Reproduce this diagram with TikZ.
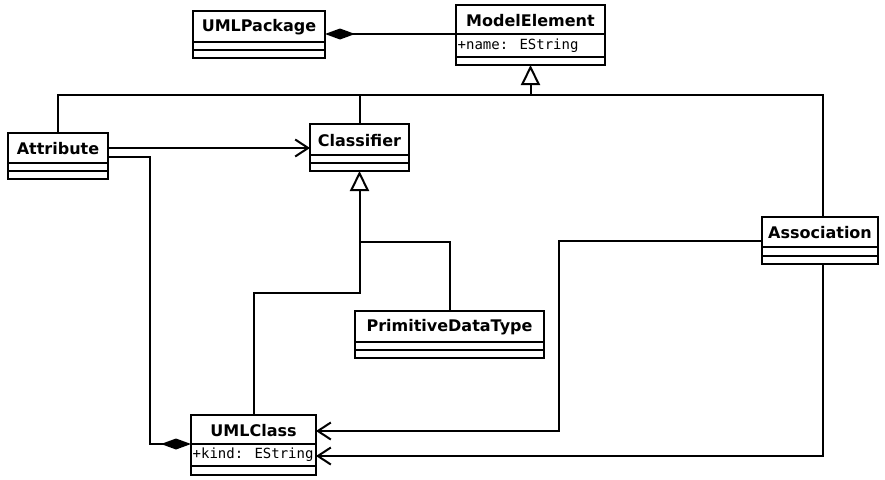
\documentclass[tikz,border=0pt]{standalone}
\usepackage{fontspec}
\setmainfont{DejaVu Sans}
\newfontfamily\monof{DejaVu Sans Mono}
\usetikzlibrary{arrows.meta}
\tikzset{
  line/.style={line width=2pt, line join=miter},
  box/.style={line, draw, fill=white, inner sep=0pt, outer sep=0pt, anchor=north west},
  ttl/.style={font=\fontsize{16}{19}\selectfont\bfseries, inner sep=0pt},
  att/.style={font=\monof\fontsize{14}{16}\selectfont, inner sep=0pt, anchor=west},
  gen/.style={line, -{Triangle[open, length=20pt, width=19pt, line width=2pt]}},
  nav/.style={line, -{Straight Barb[length=13pt, width=17pt, line width=2pt]}},
  compS/.style={line, {Diamond[length=30pt, width=11pt]}-},
  compE/.style={line, -{Diamond[length=30pt, width=11pt]}},
}
% \umlcls{name}{x1}{y1}{x2}{y2}{d1}{d2}{title}{attr}
\newcommand{\umlcls}[9]{%
  \node[box, minimum width={#4-#2}, minimum height={#5-#3}] (#1) at (#2,#3) {};
  \draw[line] (#2,#6) -- (#4,#6);
  \draw[line] (#2,#7) -- (#4,#7);
  \node[ttl] (#1-t) at ({(#2+#4)/2},{(#3+#6)/2+1}) {#8};
  \node[att] (#1-a) at ({#2+1.5},{(#6+#7)/2}) {#9};
}
\begin{document}
\begin{tikzpicture}[x=1pt,y=-1pt]
\useasboundingbox[fill=white] (0,0) rectangle (885,479);
\umlcls{pkg}{193}{11}{325}{58}{42}{50}{UMLPackage}{}
\umlcls{me}{456}{5}{605}{65}{34}{57}{ModelElement}{+name: EString}
\umlcls{attr}{8}{133}{108}{179}{163}{171}{Attribute}{}
\umlcls{cls}{310}{124}{409}{171}{155}{163}{Classifier}{}
\umlcls{pdt}{355}{311}{544}{358}{342}{350}{PrimitiveDataType}{}
\umlcls{assoc}{762}{217}{878}{264}{247}{256}{Association}{}
\umlcls{uml}{191}{415}{316}{475}{444}{466}{UMLClass}{+kind: EString}

% composition UMLPackage - ModelElement
\draw[compS] (pkg.east |- 0,34) -- (me.west |- 0,34);

% generalization to ModelElement
\coordinate (hub) at (me.south |- 0,95);
\draw[gen] (hub) -- (me.south);
\draw[line] (attr.north) |- (hub) -| ([xshift=3pt]assoc.north);
\draw[line] (cls.north) -- (cls.north |- hub);

% generalization to Classifier
\coordinate (hub2) at (cls.south |- 0,242);
\coordinate (bend2) at (cls.south |- 0,293);
\draw[gen] (hub2) -- (cls.south);
\draw[line] (hub2) -| (pdt.north);
\draw[line] (hub2) -- (bend2) -| (uml.north);

% Attribute -> Classifier
\draw[nav] (attr.east |- 0,148) -- (cls.west |- 0,148);

% Attribute composition to UMLClass
\coordinate (c1) at (150,444);
\draw[compE] (attr.east |- 0,157) -| (c1) -- (uml.west |- c1);

% Association -> UMLClass
\coordinate (c2) at (559,431);
\draw[nav] (assoc.west |- 0,241) -| (c2) -- (uml.east |- c2);
\draw[nav] ([xshift=3pt]assoc.south) |- (uml.east |- 0,456);
\end{tikzpicture}
\end{document}
